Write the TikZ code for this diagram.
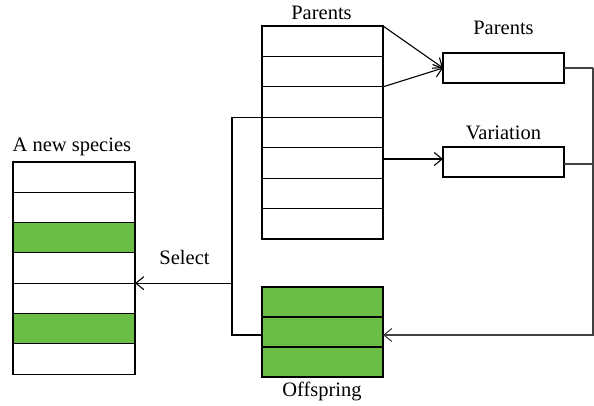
\documentclass[tikz,border=0pt]{standalone}
\usepackage{fontspec}
\setmainfont{Liberation Serif}
\usetikzlibrary{arrows.meta,calc}
\definecolor{leafgreen}{HTML}{6CBD45}
\tikzset{
  cell/.style={draw=black, line width=1.1pt, minimum width=121pt, minimum height=30.4pt,
               inner sep=0pt, outer sep=0pt, anchor=north west},
  greencell/.style={cell, fill=leafgreen},
  lbl/.style={font=\fontsize{20.5}{23}\selectfont, inner sep=0pt},
  link/.style={line width=1.1pt, draw=black},
  loop/.style={line width=1.2pt, draw=black!75},
  barb/.style={-{Straight Barb[length=8pt,width=13pt,line width=1.1pt]}}
}
\begin{document}
\begin{tikzpicture}[x=1pt,y=-1pt]
\useasboundingbox (0,0) rectangle (594,406);

% parent population
\foreach \i in {1,...,7} {
  \node[cell] (p\i) at (262,{26+(\i-1)*30.43}) {};
}
% new species
\foreach \i/\s in {1/cell,2/cell,3/greencell,4/cell,5/cell,6/greencell,7/cell} {
  \node[\s, minimum width=122pt, minimum height=30.3pt] (n\i) at (13,{162+(\i-1)*30.3}) {};
}
% offspring
\foreach \i in {1,2,3} {
  \node[greencell, minimum height=30pt] (o\i) at (262,{287+(\i-1)*30}) {};
}
% operator boxes
\node[cell, minimum height=30pt] (pbox) at (443,53) {};
\node[cell, minimum height=30pt] (vbox) at (443,147) {};

% labels
\node[lbl] (lparents) at (321.5,12.5) {Parents};
\node[lbl] (lpbox) at (503.5,27.5) {Parents};
\node[lbl] (lvar) at (503.5,132.5) {Variation};
\node[lbl, anchor=west] (lnew) at (12.5,147) {A new species};
\node[lbl] (lsel) at (184.5,257.5) {Select};
\node[lbl] (loff) at (322,391.5) {Offspring};

% parents to the crossover box
\draw[link, barb] (p1.north east) -- (pbox.west);
\draw[link, barb] (p3.north east) -- (pbox.west);
% parents to the variation box
\coordinate (vin) at ([yshift=3pt]vbox.west);
\draw[link, barb] (p5.east |- vin) -- (vin);

% results return to the offspring
\coordinate (rtop) at (593,68);
\coordinate (oin) at ([yshift=-3pt]o2.east);
\coordinate (vout) at ([yshift=-2pt]vbox.east);
\draw[loop] (pbox.east) -- (rtop);
\draw[loop] (vout) -- (vout -| rtop);
\draw[loop, barb] (rtop) -- (rtop |- oin) -- (oin);

% selection into the new species
\coordinate (sx) at (232,0);
\coordinate (oleft) at ([yshift=-3pt]o2.west);
\draw[link] (oleft) -- (oleft -| sx) -- (sx |- p4.north west) -- (p4.north west);
\draw[link, barb] (sx |- n5.north east) -- (n5.north east);
\end{tikzpicture}
\end{document}
